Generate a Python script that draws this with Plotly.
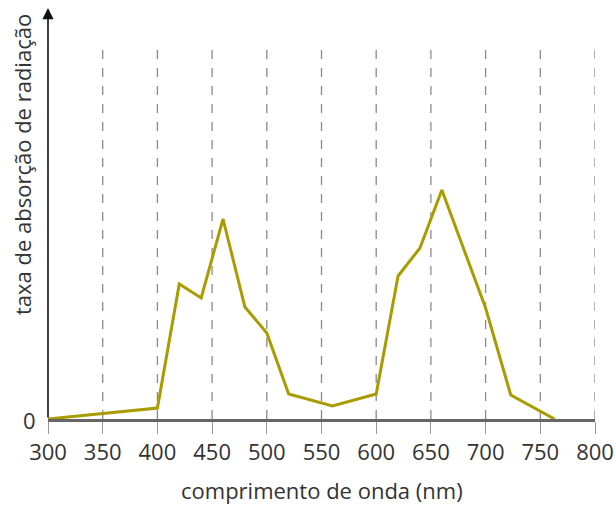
import plotly.graph_objects as go

wavelength_nm = [300, 400, 420, 440, 460, 480, 500, 520, 560, 600, 620, 640, 660, 700, 723, 763]
absorption = [0, 11, 135, 121, 200, 112, 86, 25, 13, 25, 143, 171, 229, 111, 24, 0]
x_ticks = [300, 350, 400, 450, 500, 550, 600, 650, 700, 750, 800]
grid_x = [350, 400, 450, 500, 550, 600, 650, 700, 750, 800]

FONT = "Open Sans"
TXT = "#333333"

W, H = 616, 505
L, T = 48, 10
PW, PH = 547, 409
R = W - L - PW
B = H - T - PH

fig = go.Figure()
fig.add_trace(go.Scatter(
    x=wavelength_nm, y=absorption, mode="lines",
    line=dict(color="#a89c00", width=3),
    hoverinfo="skip", showlegend=False,
))

shapes = []
for gx in grid_x:
    shapes.append(dict(type="line", xref="x", yref="y", x0=gx, x1=gx, y0=0, y1=371,
                       line=dict(color="#8a8a8a", width=1.3, dash="dash"), layer="below"))
fig.update_layout(shapes=shapes)

# y axis arrow
fig.add_annotation(x=300, y=411, ax=300, ay=0, xref="x", yref="y", axref="x", ayref="y",
                   showarrow=True, arrowhead=2, arrowsize=1.4, arrowwidth=1.6,
                   arrowcolor="#111111", text="", standoff=0, startstandoff=0)
# zero label
fig.add_annotation(x=300, y=0, xref="x", yref="y", text="0", showarrow=False,
                   xanchor="right", yanchor="middle", xshift=-10, yshift=-1,
                   font=dict(family=FONT, size=22, color=TXT))
# y title (page pixel x=22, y=165)
fig.add_annotation(x=(22 - L) / PW, y=(419 - 165) / PH, xref="paper", yref="paper",
                   text="taxa de absorção de radiação",
                   showarrow=False, textangle=-90, xanchor="center", yanchor="middle",
                   font=dict(family=FONT, size=22, color=TXT))
# x title (page pixel center x=322, y=490)
fig.add_annotation(x=(322 - L) / PW, y=(419 - 490) / PH, xref="paper", yref="paper",
                   text="comprimento de onda (nm)",
                   showarrow=False, xanchor="center", yanchor="middle",
                   font=dict(family=FONT, size=22, color=TXT))

fig.update_layout(
    width=W, height=H, autosize=False,
    margin=dict(l=L, r=R, t=T, b=B),
    paper_bgcolor="white", plot_bgcolor="white",
    font=dict(family=FONT, color=TXT),
    xaxis=dict(range=[300, 800], tickvals=x_ticks, ticktext=[str(v) for v in x_ticks],
               automargin=False,
               showgrid=False, zeroline=False, showline=True, linecolor="#666666", linewidth=2.5,
               ticks="outside", ticklen=12, tickwidth=1.3, tickcolor="#999999",
               tickfont=dict(family=FONT, size=22, color=TXT)),
    yaxis=dict(range=[0, PH], automargin=False, showgrid=False, zeroline=False, showline=False,
               showticklabels=False, ticks=""),
)

fig.write_html("out.html",
               config={"responsive": False, "displayModeBar": False},
               post_script="document.body.style.margin='0';document.body.style.overflow='hidden';")
